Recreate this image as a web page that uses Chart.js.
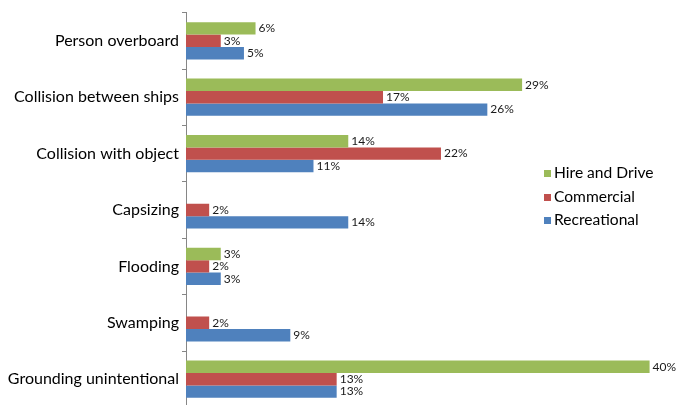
<!DOCTYPE html>
<html>
<head>
<meta charset="utf-8">
<script src="https://cdn.jsdelivr.net/npm/chart.js@4.4.1/dist/chart.umd.min.js"></script>
<style>
  html, body { margin: 0; padding: 0; background: #fff; overflow: hidden; }
  #wrap { position: relative; width: 684px; height: 420px; }
  #legend { position: absolute; left: 544px; top: 161px; font-family: Lato, sans-serif; font-size: 15.6px; color: #000; }
  .item { height: 23.5px; line-height: 23.5px; white-space: nowrap; }
  .swatch { display: inline-block; width: 7px; height: 7px; margin-right: 3px; vertical-align: 1px; }
</style>
</head>
<body>
<div id="wrap">
  <canvas id="incidentChart" width="684" height="420"></canvas>
  <div id="legend"></div>
</div>
<script>

const categories = [
    'Person overboard',
    'Collision between ships',
    'Collision with object',
    'Capsizing',
    'Flooding',
    'Swamping',
    'Grounding unintentional'
];

// percent of incidents, null where the group has none
const hireAndDrive = [6, 29, 14, null, 3, null, 40];
const commercial   = [3, 17, 22, 2, 2, 2, 13];
const recreational = [5, 26, 11, 14, 3, 9, 13];

const seriesNames  = ['Hire and Drive', 'Commercial', 'Recreational'];
const seriesColors = ['#9BBB59', '#C0504D', '#4F81BD'];

// writes the value just past the end of each bar
const valueLabels = {
    id: 'valueLabels',
    afterDatasetsDraw(chart){
        const ctx = chart.ctx;
        ctx.save();
        ctx.font = '12px Lato, sans-serif';
        ctx.fillStyle = '#1a1a1a';
        ctx.textBaseline = 'middle';
        ctx.textAlign = 'left';
        chart.data.datasets.forEach((ds, i) => {
            const meta = chart.getDatasetMeta(i);
            meta.data.forEach((bar, j) => {
                const v = ds.data[j];
                if (v === null) return;
                ctx.fillText(v + '%', bar.x + 3, bar.y);
            });
        });
        ctx.restore();
    }
};

const ctx = document.getElementById('incidentChart');

new Chart(ctx, {
    type: 'bar',
    data: {
        labels: categories,
        datasets: [hireAndDrive, commercial, recreational].map((d, i) => ({
            label: seriesNames[i],
            data: d,
            backgroundColor: seriesColors[i],
            borderWidth: 0,
            categoryPercentage: 0.66,
            barPercentage: 1
        }))
    },
    options: {
        indexAxis: 'y',
        responsive: false,
        animation: false,
        layout: { padding: { top: 11, bottom: 6.5, left: 0, right: 6.6 } },
        plugins: {
            legend: { display: false },
            tooltip: { enabled: false }
        },
        scales: {
            x: {
                display: false,
                min: 0,
                max: 42.4
            },
            y: {
                afterFit(scale){ scale.width = 186; },
                border: { display: true, color: '#868686', width: 1 },
                grid: {
                    offset: true,
                    drawOnChartArea: false,
                    tickLength: 4,
                    color: '#868686'
                },
                ticks: {
                    padding: 3,
                    color: '#000',
                    font: { family: 'Lato', size: 16 }
                }
            }
        }
    },
    plugins: [valueLabels]
});

// legend sits inside the plot on the right
const legend = document.getElementById('legend');
seriesNames.forEach((name, i) => {
    const row = document.createElement('div');
    row.className = 'item';
    row.innerHTML = '<span class="swatch" style="background:' + seriesColors[i] + '"></span>' + name;
    legend.appendChild(row);
});

</script>
</body>
</html>
